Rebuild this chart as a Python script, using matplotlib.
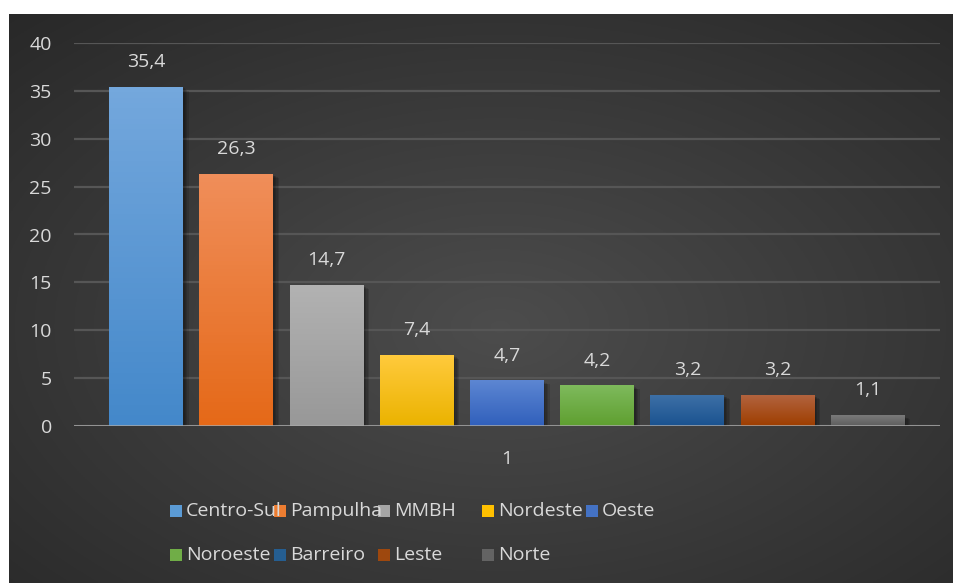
import numpy as np
import matplotlib.pyplot as plt
from matplotlib.colors import to_rgb
from matplotlib.patches import Rectangle
from matplotlib import patheffects as pe

regioes = ['Centro-Sul', 'Pampulha', 'MMBH', 'Nordeste', 'Oeste',
           'Noroeste', 'Barreiro', 'Leste', 'Norte']
valores = [35.4, 26.3, 14.7, 7.4, 4.7, 4.2, 3.2, 3.2, 1.1]
cor_topo = ['#74a8dd', '#f08e5a', '#b2b2b2', '#ffca3c', '#5d86d2',
            '#7eba5c', '#3d70a6', '#b2633e', '#7a7a7a']
cor_base = ['#4488ca', '#e56918', '#989898', '#ebb300', '#3060bc',
            '#5f9f30', '#1a5290', '#9e3e00', '#5e5e5e']
cor_leg = ['#5b9bd5', '#ed7d31', '#a5a5a5', '#ffc000', '#4472c4',
           '#70ad47', '#255e91', '#9e480e', '#636363']
yticks = [0, 5, 10, 15, 20, 25, 30, 35, 40]

W, H = 954, 583
fig = plt.figure(figsize=(W / 100, H / 100), dpi=100, facecolor='white')
plt.rcParams['font.family'] = ['Open Sans', 'DejaVu Sans']
txt = '#d9d9d9'
fs = 14

# fundo escuro com gradiente radial
bg = fig.add_axes([9 / W, 0, (W - 9) / W, (H - 14) / H])
bg.set_axis_off()
yy, xx = np.mgrid[0:1:300j, 0:1:500j]
d = np.sqrt(((xx - 0.52) / 0.75) ** 2 + ((yy - 0.45) / 0.75) ** 2)
d = np.clip(d, 0, 1)
shade = 0.30 - 0.14 * d
img = np.dstack([shade, shade, shade])
bg.imshow(img, extent=(0, 1, 0, 1), aspect='auto', origin='lower', zorder=0)
bg.set_xlim(0, 1)
bg.set_ylim(0, 1)

ax = fig.add_axes([74 / W, (H - 426) / H, 866 / W, 383 / H])
ax.patch.set_alpha(0)
x = np.arange(len(valores))
sombra = [pe.SimplePatchShadow(offset=o, shadow_rgbFace='black', alpha=0.12)
          for o in [(1, -1), (2, -1.5), (3, -2), (4, -2.5)]]
bars = ax.bar(x, valores, width=0.82, color='none', zorder=3,
              path_effects=sombra + [pe.Normal()])

grad = np.linspace(0, 1, 64)[:, None]
for b, c0, c1, v in zip(bars, cor_base, cor_topo, valores):
    x0 = b.get_x()
    x1 = x0 + b.get_width()
    a = np.array(to_rgb(c0))
    t = np.array(to_rgb(c1))
    g = a[None, None, :] * (1 - grad[:, :, None]) + t[None, None, :] * grad[:, :, None]
    ax.imshow(g, extent=(x0, x1, 0, v), aspect='auto', origin='lower', zorder=4)
    ax.annotate(f'{v:.1f}'.replace('.', ','), (x0 + b.get_width() / 2, v),
                xytext=(0, 18), textcoords='offset points', ha='center', va='center',
                color=txt, fontsize=fs, zorder=5)

ax.set_xlim(-0.8, 8.8)
ax.set_ylim(0, 40)
ax.set_yticks(yticks)
ax.set_yticklabels([str(t) for t in yticks])
ax.tick_params(axis='y', length=0, pad=16, labelsize=fs, labelcolor=txt)
ax.set_xticks([])
for s in ax.spines.values():
    s.set_visible(False)
ax.grid(axis='y', color='#565656', linewidth=1.6, zorder=1)
ax.axhline(0, color='#a8a8a8', linewidth=1.8, zorder=6)
ax.annotate('1', (4, 0), xytext=(0, -24), textcoords='offset points',
            ha='center', va='center', color=txt, fontsize=fs)

# legenda
for i, (nome, cor) in enumerate(zip(regioes, cor_leg)):
    col, row = i % 5, i // 5
    mx = 176 + 104 * col
    my = 511 + 44 * row
    fig.add_artist(Rectangle(((mx - 6) / W, (H - my - 6) / H), 12 / W, 12 / H,
                             transform=fig.transFigure, facecolor=cor,
                             edgecolor='none'))
    fig.text((mx + 10) / W, (H - my) / H, nome, ha='left', va='center',
             color=txt, fontsize=fs)

fig.savefig('out.png', dpi=100, facecolor='white')
